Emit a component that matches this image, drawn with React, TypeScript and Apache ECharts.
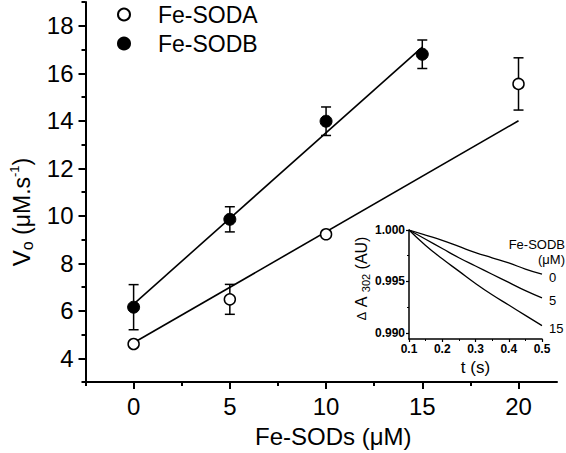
import React, { useEffect, useRef } from 'react';
import * as echarts from 'echarts';

const FONT = '"Liberation Sans", Arial, Helvetica, sans-serif';

// Main plot data (Fe-SODs concentration, µM)
const sodaX = [0, 5, 10, 20];
const sodaY = [4.6, 6.48, 9.22, 15.55];
const sodaErr = [0.06, 0.63, 0.12, 1.1];
const sodbX = [0, 5, 10, 15];
const sodbY = [6.15, 9.85, 13.98, 16.8];
const sodbErr = [0.95, 0.53, 0.6, 0.6];
const sodaFitX = [0, 20];
const sodaFitY = [4.65, 14.0];
const sodbFitX = [0, 15];
const sodbFitY = [6.28, 17.1];

const xMajorTicks = [0, 5, 10, 15, 20];
const xMinorTicks = [-2.5, 2.5, 7.5, 12.5, 17.5];
const yMajorTicks = [4, 6, 8, 10, 12, 14, 16, 18];
const yMinorTicks = [3, 5, 7, 9, 11, 13, 15, 17, 19];

// Inset data
const insetT = [0.1, 0.15, 0.2, 0.25, 0.3, 0.35, 0.4, 0.45, 0.5];
const inset0 = [1.0, 0.9995, 0.999, 0.9984, 0.9978, 0.9973, 0.9968, 0.9962, 0.9957];
const inset5 = [1.0, 0.9991, 0.9982, 0.9973, 0.9965, 0.9957, 0.9949, 0.9941, 0.9934];
const inset15 = [1.0, 0.9985, 0.9972, 0.996, 0.9948, 0.9937, 0.9927, 0.9917, 0.9907];
const insetNames = ['0', '5', '15'];
const insetXTicks = [0.1, 0.2, 0.3, 0.4, 0.5];
const insetXMinor = [0.15, 0.25, 0.35, 0.45];
const insetYTicks = [0.99, 0.995, 1.0];
const insetYMinor = [0.9925, 0.9975];

const errRender = (params: any, api: any) => {
  const x = api.value(0);
  const y = api.value(1);
  const e = api.value(2);
  const top = api.coord([x, y + e]);
  const bot = api.coord([x, y - e]);
  const hw = 5;
  const style = { stroke: '#000', lineWidth: 1.5, fill: 'none' };
  return {
    type: 'group',
    children: [
      { type: 'line', shape: { x1: top[0], y1: top[1], x2: bot[0], y2: bot[1] }, style },
      { type: 'line', shape: { x1: top[0] - hw, y1: top[1], x2: top[0] + hw, y2: top[1] }, style },
      { type: 'line', shape: { x1: bot[0] - hw, y1: bot[1], x2: bot[0] + hw, y2: bot[1] }, style },
    ],
  };
};

export default function App() {
  const ref = useRef<HTMLDivElement>(null);
  useEffect(() => {
    if (!ref.current) return;
    const chart = echarts.init(ref.current, null, { renderer: 'svg' });
    const axisLine = { show: true, onZero: false, lineStyle: { color: '#000', width: 2 } };
    const insetAxisLine = { show: true, onZero: false, lineStyle: { color: '#000', width: 1.5 } };
    const mainLabel = { color: '#000', fontSize: 24, fontFamily: FONT, margin: 12 };
    const insetLabel = { color: '#000', fontSize: 12, fontWeight: 'bold', fontFamily: FONT, margin: 4 };
    const insetCurves = [inset0, inset5, inset15];

    const option: any = {
      animation: false,
      backgroundColor: '#fff',
      textStyle: { fontFamily: FONT },
      grid: [
        { left: 79, top: 2, width: 478, height: 381 },
        { left: 409, top: 230, width: 133, height: 109 },
      ],
      legend: {
        data: ['Fe-SODA', 'Fe-SODB'],
        orient: 'vertical',
        left: 117,
        top: 3,
        padding: 0,
        itemWidth: 58,
        itemHeight: 12,
        itemGap: 6,
        textStyle: { fontSize: 23, color: '#000', fontFamily: FONT, padding: [0, 0, 0, 0] },
      },
      xAxis: [
        {
          gridIndex: 0, type: 'value', min: -2.5, max: 22, position: 'bottom',
          axisLine,
          axisTick: { show: true, customValues: xMajorTicks, length: 7, lineStyle: { color: '#000', width: 2 } },
          axisLabel: { ...mainLabel, customValues: xMajorTicks },
          splitLine: { show: false },
          name: 'Fe-SODs (μM)', nameLocation: 'middle', nameGap: 42,
          nameTextStyle: { fontSize: 24, color: '#000', fontFamily: FONT, padding: [0, 0, 0, 24] },
        },
        {
          gridIndex: 0, type: 'value', min: -2.5, max: 22, position: 'bottom',
          axisLine: { show: false, onZero: false },
          axisTick: { show: true, customValues: xMinorTicks, length: 4, lineStyle: { color: '#000', width: 2 } },
          axisLabel: { show: false },
          splitLine: { show: false },
        },
        {
          gridIndex: 1, type: 'value', min: 0.1, max: 0.5, position: 'bottom',
          axisLine: insetAxisLine,
          axisTick: { show: true, customValues: insetXTicks, length: 3, lineStyle: { color: '#000', width: 1.2 } },
          axisLabel: { ...insetLabel, customValues: insetXTicks, formatter: (v: number) => v.toFixed(1) },
          splitLine: { show: false },
          name: 't (s)', nameLocation: 'middle', nameGap: 20,
          nameTextStyle: { fontSize: 17, color: '#000', fontFamily: FONT },
        },
        {
          gridIndex: 1, type: 'value', min: 0.1, max: 0.5, position: 'bottom',
          axisLine: { show: false, onZero: false },
          axisTick: { show: true, customValues: insetXMinor, length: 2, lineStyle: { color: '#000', width: 1 } },
          axisLabel: { show: false },
          splitLine: { show: false },
        },
      ],
      yAxis: [
        {
          gridIndex: 0, type: 'value', min: 3, max: 19, position: 'left',
          axisLine,
          axisTick: { show: true, customValues: yMajorTicks, length: 7, lineStyle: { color: '#000', width: 2 } },
          axisLabel: { ...mainLabel, customValues: yMajorTicks },
          splitLine: { show: false },
          name: '{v|V}{o|o}{n| (μM.s}{sup|-1}{n|)}',
          nameLocation: 'middle', nameRotate: 90, nameGap: 50,
          nameTextStyle: {
            color: '#000', fontFamily: FONT, padding: [0, 40, 0, 0],
            rich: {
              v: { fontSize: 24, color: '#000', fontFamily: FONT },
              o: { fontSize: 16, color: '#000', fontFamily: FONT, padding: [12, 0, 0, 0] },
              n: { fontSize: 23, color: '#000', fontFamily: FONT },
              sup: { fontSize: 13, color: '#000', fontFamily: FONT, padding: [0, 0, 14, 0] },
            },
          },
        },
        {
          gridIndex: 0, type: 'value', min: 3, max: 19, position: 'left',
          axisLine: { show: false, onZero: false },
          axisTick: { show: true, customValues: yMinorTicks, length: 4, lineStyle: { color: '#000', width: 2 } },
          axisLabel: { show: false },
          splitLine: { show: false },
        },
        {
          gridIndex: 1, type: 'value', min: 0.9894, max: 1.0, position: 'left',
          axisLine: insetAxisLine,
          axisTick: { show: true, customValues: insetYTicks, length: 3, lineStyle: { color: '#000', width: 1.2 } },
          axisLabel: { ...insetLabel, customValues: insetYTicks, formatter: (v: number) => v.toFixed(3) },
          splitLine: { show: false },
          name: '{d|Δ}{a| A }{s|302}{a| (AU)}',
          nameLocation: 'middle', nameRotate: 90, nameGap: 37,
          nameTextStyle: {
            color: '#000', fontFamily: FONT, padding: [0, 0, 0, 12],
            rich: {
              d: { fontSize: 13, color: '#000', fontFamily: FONT },
              a: { fontSize: 16, color: '#000', fontFamily: FONT },
              s: { fontSize: 11, color: '#000', fontFamily: FONT, padding: [9, 0, 0, 0] },
            },
          },
        },
        {
          gridIndex: 1, type: 'value', min: 0.9894, max: 1.0, position: 'left',
          axisLine: { show: false, onZero: false },
          axisTick: { show: true, customValues: insetYMinor, length: 2, lineStyle: { color: '#000', width: 1 } },
          axisLabel: { show: false },
          splitLine: { show: false },
        },
      ],
      graphic: [
        {
          type: 'text', right: 1, top: 238,
          style: { text: 'Fe-SODB', fontSize: 13, fill: '#000', fontFamily: FONT },
        },
        {
          type: 'text', right: 1, top: 253,
          style: { text: '(μM)', fontSize: 13, fill: '#000', fontFamily: FONT },
        },
      ],
      series: [
        {
          type: 'custom', name: 'errA', xAxisIndex: 0, yAxisIndex: 0, z: 2,
          renderItem: errRender, encode: { x: 0, y: 1 },
          data: sodaX.map((x, i) => [x, sodaY[i], sodaErr[i]]),
          silent: true,
        },
        {
          type: 'custom', name: 'errB', xAxisIndex: 0, yAxisIndex: 0, z: 2,
          renderItem: errRender, encode: { x: 0, y: 1 },
          data: sodbX.map((x, i) => [x, sodbY[i], sodbErr[i]]),
          silent: true,
        },
        {
          type: 'line', name: 'fitA', xAxisIndex: 0, yAxisIndex: 0, z: 2,
          showSymbol: false, silent: true,
          lineStyle: { color: '#000', width: 1.6 },
          data: sodaFitX.map((x, i) => [x, sodaFitY[i]]),
        },
        {
          type: 'line', name: 'fitB', xAxisIndex: 0, yAxisIndex: 0, z: 2,
          showSymbol: false, silent: true,
          lineStyle: { color: '#000', width: 1.6 },
          data: sodbFitX.map((x, i) => [x, sodbFitY[i]]),
        },
        {
          type: 'scatter', name: 'Fe-SODA', xAxisIndex: 0, yAxisIndex: 0, z: 5,
          symbol: 'circle', symbolSize: 11,
          itemStyle: { color: '#fff', borderColor: '#000', borderWidth: 1.5, opacity: 1 },
          data: sodaX.map((x, i) => [x, sodaY[i]]),
        },
        {
          type: 'scatter', name: 'Fe-SODB', xAxisIndex: 0, yAxisIndex: 0, z: 5,
          symbol: 'circle', symbolSize: 12,
          itemStyle: { color: '#000', borderColor: '#000', borderWidth: 1, opacity: 1 },
          data: sodbX.map((x, i) => [x, sodbY[i]]),
        },
        ...insetCurves.map((curve, k) => ({
          type: 'line', name: insetNames[k], xAxisIndex: 2, yAxisIndex: 2, z: 3,
          showSymbol: false, silent: true, smooth: true,
          lineStyle: { color: '#000', width: 1.3 },
          data: insetT.map((t, i) => [t, curve[i]]),
          endLabel: {
            show: true, formatter: '{a}', fontSize: 13, color: '#000', fontFamily: FONT,
            distance: 7, offset: [0, 3],
          },
        })),
      ],
    };
    chart.setOption(option);
    return () => chart.dispose();
  }, []);
  return (
    <div
      ref={ref}
      style={{ position: 'fixed', left: 0, top: 0, width: 566, height: 453, background: '#fff' }}
    />
  );
}
